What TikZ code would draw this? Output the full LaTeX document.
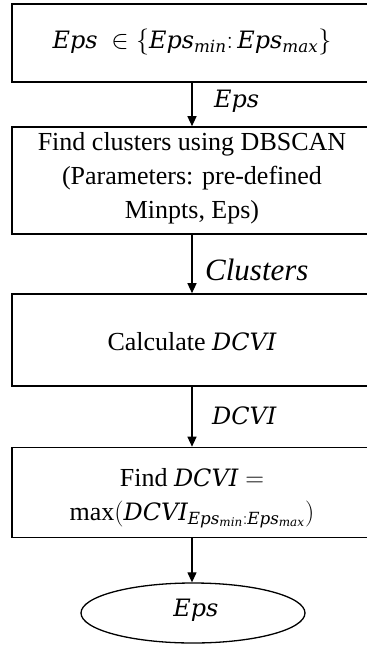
\RequirePackage{fix-cm}
\documentclass[tikz,border=0pt]{standalone}
\usepackage{fontspec}
\setmainfont{Liberation Serif}
\usetikzlibrary{arrows.meta,shapes.geometric}

% math letters and operator names taken from text fonts
\newfontfamily\libserif[NFSSFamily=libs]{Liberation Serif}
\newfontfamily\mletfont[NFSSFamily=mlet,Scale=0.92]{DejaVu Serif}
\DeclareSymbolFont{operators}{TU}{libs}{m}{n}
\DeclareSymbolFont{letters}{TU}{mlet}{m}{it}

\tikzset{
  stepbox/.style={draw=black, line width=1.6pt, rectangle, minimum width=360pt,
    inner sep=0pt},
  boxtext/.style={align=center, inner sep=0pt, font=\fontsize{26}{34}\selectfont},
  endoval/.style={draw=black, line width=1.3pt, ellipse, minimum width=224pt,
    minimum height=60pt, inner sep=0pt},
  flow/.style={draw=black, line width=1.2pt, -{Triangle[length=10pt,width=9pt]}},
  flowlabel/.style={anchor=west, inner sep=0pt, font=\fontsize{26}{30}\selectfont}
}

\begin{document}
\begin{tikzpicture}[x=1pt,y=-1pt]
  \useasboundingbox (0,0) rectangle (367,646);
  \clip (0,0) rectangle (367,646);

  % process boxes (right edges run off the page)
  \node[stepbox, minimum height=78pt] (range) at (192,43) {};
  \node[stepbox, minimum height=107pt] (dbscan) at (192,180.5) {};
  \node[stepbox, minimum height=92pt] (calc) at (192,340) {};
  \node[stepbox, minimum height=90pt] (best) at (192,492.5) {};

  % box texts
  \node[boxtext] (rangetxt) at (192,42)
    {$Eps\ \in\{Eps_{min}\colon Eps_{max}\}$};
  \node[boxtext] (dbscantxt) at (192,178.5)
    {Find clusters using DBSCAN\\(Parameters: pre-defined\\Minpts, Eps)};
  \node[boxtext] (calctxt) at (192,342) {Calculate $DCVI$};
  \node[boxtext] (besttxt) at (192,498)
    {Find $DCVI =$\\$\max(DCVI_{Eps_{min}:Eps_{max}})$};

  % result
  \node[endoval] (result) at (193,613) {};
  \node[boxtext] (resulttxt) at (196,610) {$Eps$};

  % connectors
  \draw[flow] (range.south) -- (dbscan.north);
  \draw[flow] (dbscan.south) -- (calc.north);
  \draw[flow] (calc.south) -- (best.north);
  \draw[flow] (best.south) -- (best.south |- result.north);

  % connector labels
  \node[flowlabel] (lbleps) at (214,101) {$Eps$};
  \node[flowlabel, font=\fontsize{31}{34}\selectfont] (lblclu) at (205,270) {\textit{Clusters}};
  \node[flowlabel] (lbldcvi) at (212,416) {$DCVI$};
\end{tikzpicture}
\end{document}
